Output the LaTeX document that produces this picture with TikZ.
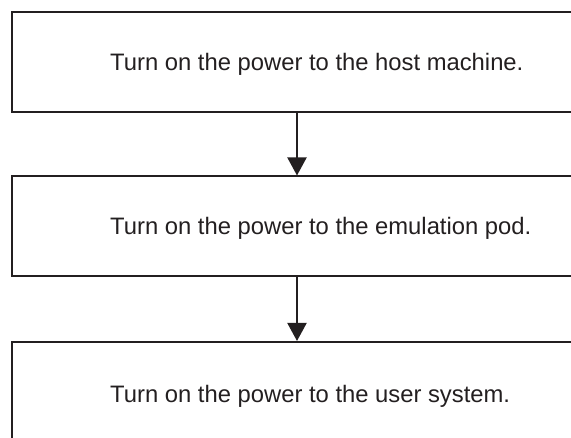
\documentclass[tikz,border=0pt]{standalone}
\usepackage{fontspec}
\setmainfont{Liberation Sans}
\usetikzlibrary{arrows.meta}
\definecolor{ink}{HTML}{231F20}
\begin{document}
\begin{tikzpicture}[x=1pt,y=-1pt,
  stepbox/.style={draw=ink,line width=2pt,rectangle,inner sep=0pt,
    minimum width=573.5pt},
  steptext/.style={anchor=base west,inner sep=0pt,text=ink,
    font=\fontsize{23.8}{28}\selectfont},
  flow/.style={draw=ink,line width=2pt,
    -{Triangle[width=19pt,length=18pt]}}]
  \clip (0,0) rectangle (571,438);
  \useasboundingbox (0,0) rectangle (571,438);
  % step boxes (right side runs past the page edge)
  \node[stepbox,minimum height=100.5pt] (b1) at (298.25,62.25) {};
  \node[stepbox,minimum height=100pt]   (b2) at (298.25,226.5) {};
  \node[stepbox,minimum height=104pt]   (b3) at (298.25,394) {};
  % step texts
  \node[steptext] (t1) at (110,70.5)  {Turn on the power to the host machine.};
  \node[steptext] (t2) at (110,235)   {Turn on the power to the emulation pod.};
  \node[steptext] (t3) at (110,402.5) {Turn on the power to the user system.};
  % connectors
  \coordinate (ax) at (297,0);
  \draw[flow] (b1.south -| ax) -- (b2.north -| ax);
  \draw[flow] (b2.south -| ax) -- (b3.north -| ax);
\end{tikzpicture}
\end{document}
